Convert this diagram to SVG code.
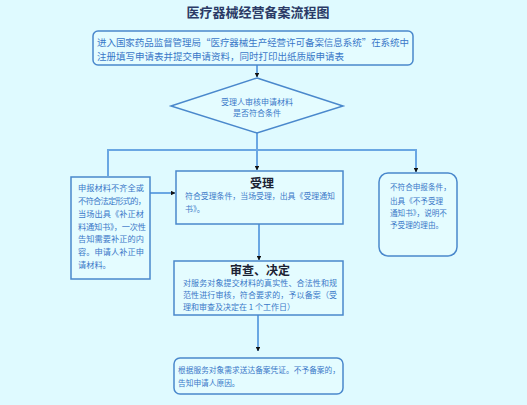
<svg xmlns="http://www.w3.org/2000/svg" width="527" height="405" viewBox="0 0 527 405">
<defs>
<style>
.bg{fill:#dffaff}
.box{fill:#e4fcff;stroke:#4a88cc;stroke-width:1.5}
.t{font-family:"Noto Sans CJK SC","Noto Sans CJK JP",sans-serif;fill:#3a78c8}
.h{font-family:"Noto Sans CJK SC","Noto Sans CJK JP",sans-serif;fill:#1b2233;font-weight:bold;text-anchor:middle}
.c{fill:none;stroke:#6aa7e3;stroke-width:2}
</style>
<marker id="ar" viewBox="0 0 10 10" refX="9" refY="5" markerWidth="4.5" markerHeight="4.5" orient="auto" markerUnits="userSpaceOnUse">
<path d="M0,0 L10,5 L0,10 z" fill="#111"/>
</marker>
</defs>
<rect class="bg" x="0" y="0" width="527" height="405"/>
<text x="258" y="17" class="h" font-size="13" style="fill:#2b3a66">医疗器械经营备案流程图</text>

<g id="connectors">
<line class="c" x1="257" y1="65" x2="257" y2="77" marker-end="url(#ar)"/>
<line class="c" x1="257" y1="133" x2="257" y2="170" marker-end="url(#ar)"/>
<polyline class="c" points="108,176 108,150 416,150 416,172" marker-end="url(#ar)"/>
<line class="c" x1="150" y1="193" x2="175" y2="193" marker-end="url(#ar)"/>
<line class="c" x1="259" y1="224" x2="259" y2="260" marker-end="url(#ar)"/>
<line class="c" x1="258" y1="315" x2="258" y2="351" marker-end="url(#ar)"/>
</g>

<g id="n1">
<rect class="box" x="93" y="31" width="320" height="34" rx="5"/>
<text class="t" x="97" y="46" font-size="9.5" textLength="312">进入国家药品监督管理局“医疗器械生产经营许可备案信息系统”在系统中</text>
<text class="t" x="97" y="60" font-size="9.5">注册填写申请表并提交申请资料，同时打印出纸质版申请表</text>
</g>

<g id="n2">
<polygon class="box" points="257,78 343,106 257,133 171,106"/>
<text class="t" x="257" y="105" font-size="8" text-anchor="middle">受理人审核申请材料</text>
<text class="t" x="257" y="116" font-size="8" text-anchor="middle">是否符合条件</text>
</g>

<g id="n3">
<rect class="box" x="71" y="177" width="79" height="102"/>
<text class="t" x="78" y="191" font-size="8.2" textLength="66">申报材料不齐全或</text>
<text class="t" x="78" y="204" font-size="8.2" textLength="68">不符合法定形式的，</text>
<text class="t" x="78" y="217" font-size="8.2" textLength="66">当场出具《补正材</text>
<text class="t" x="78" y="230" font-size="8.2" textLength="68">料通知书》，一次性</text>
<text class="t" x="78" y="242" font-size="8.2" textLength="66">告知需要补正的内</text>
<text class="t" x="78" y="255" font-size="8.2" textLength="66">容。申请人补正申</text>
<text class="t" x="78" y="268" font-size="8.2">请材料。</text>
</g>

<g id="n4">
<rect class="box" x="176" y="171" width="167" height="53"/>
<text class="h" x="262" y="188" font-size="12">受理</text>
<text class="t" x="185" y="199" font-size="7.9" textLength="150">符合受理条件，当场受理，出具《受理通知</text>
<text class="t" x="185" y="212" font-size="7.9">书》。</text>
</g>

<g id="n5">
<rect class="box" x="379" y="173" width="78" height="83" rx="9"/>
<text class="t" x="390" y="190" font-size="7.6">不符合申报条件，</text>
<text class="t" x="390" y="204" font-size="7.6">出具《不予受理</text>
<text class="t" x="390" y="216" font-size="7.6">通知书》，说明不</text>
<text class="t" x="390" y="228" font-size="7.6">予受理的理由。</text>
</g>

<g id="n6">
<rect class="box" x="174" y="261" width="169" height="54"/>
<text class="h" x="260" y="275" font-size="12">审查、决定</text>
<text class="t" x="183" y="286" font-size="8" textLength="154">对服务对象提交材料的真实性、合法性和规</text>
<text class="t" x="183" y="298" font-size="8" textLength="154">范性进行审核，符合要求的，予以备案（受</text>
<text class="t" x="183" y="310" font-size="8">理和审查及决定在 1 个工作日）</text>
</g>

<g id="n7">
<rect class="box" x="174" y="358" width="169" height="36" rx="6"/>
<text class="t" x="178" y="373" font-size="7.7" textLength="162">根据服务对象需求送达备案凭证。不予备案的，</text>
<text class="t" x="178" y="386" font-size="7.7">告知申请人原因。</text>
</g>
</svg>
